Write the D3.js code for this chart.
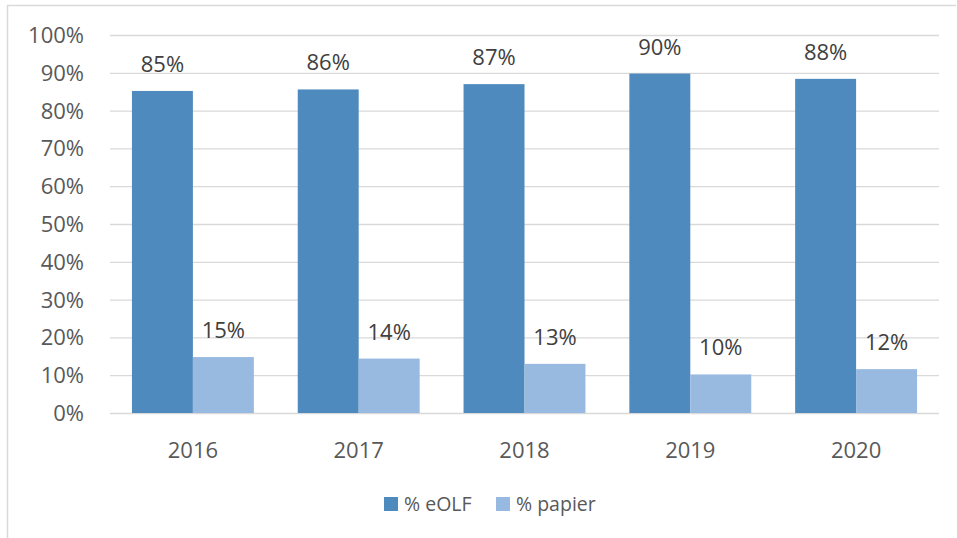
<!DOCTYPE html>
<html>
<head>
<meta charset="utf-8">
<script src="https://cdn.jsdelivr.net/npm/d3@7"></script>
<style>
  body { margin: 0; background: #fff; }
  text { font-family: "Open Sans", sans-serif; }
</style>
</head>
<body>
<script>
const years = ['2016', '2017', '2018', '2019', '2020'];
const eolf = [85.2, 85.6, 87.0, 89.8, 88.4];
const papier = [14.8, 14.4, 13.0, 10.2, 11.6];
const eolfLabels = ['85%', '86%', '87%', '90%', '88%'];
const papierLabels = ['15%', '14%', '13%', '10%', '12%'];
const seriesNames = ['% eOLF', '% papier'];
const colors = ['#4f8abe', '#98b9e0'];
const yTicks = [0, 10, 20, 30, 40, 50, 60, 70, 80, 90, 100];

const width = 957, height = 538;
const plotLeft = 110, plotRight = 939, plotTop = 35, plotBottom = 413;

const svg = d3.select('body').append('svg')
    .attr('width', width)
    .attr('height', height);

// chart frame (only top and left edges show)
svg.append('line').attr('x1', 7).attr('x2', 956).attr('y1', 5.5).attr('y2', 5.5)
    .attr('stroke', '#d9d9d9').attr('stroke-width', 1.5);
svg.append('line').attr('x1', 7.5).attr('x2', 7.5).attr('y1', 5).attr('y2', height)
    .attr('stroke', '#d9d9d9').attr('stroke-width', 1.5);

const x = d3.scaleBand().domain(years).range([plotLeft, plotRight]);
const x1 = d3.scaleBand().domain(seriesNames).range([0, x.bandwidth()]).paddingOuter(0.36);
const y = d3.scaleLinear().domain([0, 100]).range([plotBottom, plotTop]);

// gridlines
svg.append('g').selectAll('line')
    .data(yTicks).enter().append('line')
    .attr('x1', plotLeft).attr('x2', plotRight)
    .attr('y1', d => y(d) + 0.5).attr('y2', d => y(d) + 0.5)
    .attr('stroke', '#d9d9d9').attr('stroke-width', 1.3);

// y tick labels
svg.append('g').selectAll('text')
    .data(yTicks).enter().append('text')
    .attr('x', 84).attr('y', d => y(d) + 8)
    .attr('text-anchor', 'end')
    .attr('font-size', 22)
    .attr('fill', '#595959')
    .text(d => d + '%');

const series = [
    {name: seriesNames[0], values: eolf, labels: eolfLabels, color: colors[0]},
    {name: seriesNames[1], values: papier, labels: papierLabels, color: colors[1]}
];

series.forEach(function(s) {
    const g = svg.append('g');
    g.selectAll('rect')
        .data(years).enter().append('rect')
        .attr('x', d => x(d) + x1(s.name))
        .attr('width', x1.bandwidth())
        .attr('y', (d, i) => y(s.values[i]))
        .attr('height', (d, i) => plotBottom - y(s.values[i]))
        .attr('fill', s.color);

    g.selectAll('text')
        .data(years).enter().append('text')
        .attr('x', d => x(d) + x1(s.name) + x1.bandwidth() / 2)
        .attr('y', (d, i) => y(s.values[i]) - 19)
        .attr('text-anchor', 'middle')
        .attr('font-size', 22)
        .attr('fill', '#404040')
        .text((d, i) => s.labels[i]);
});

// x labels
svg.append('g').selectAll('text')
    .data(years).enter().append('text')
    .attr('x', d => x(d) + x.bandwidth() / 2)
    .attr('y', 458)
    .attr('text-anchor', 'middle')
    .attr('font-size', 22)
    .attr('fill', '#595959')
    .text(d => d);

// legend
const legendX = [384, 496];
const legend = svg.append('g');
series.forEach(function(s, i) {
    legend.append('rect')
        .attr('x', legendX[i]).attr('y', 497)
        .attr('width', 14).attr('height', 14)
        .attr('fill', s.color);
    legend.append('text')
        .attr('x', legendX[i] + 20).attr('y', 511)
        .attr('font-size', 19.5)
        .attr('fill', '#595959')
        .text(s.name);
});
</script>
</body>
</html>
